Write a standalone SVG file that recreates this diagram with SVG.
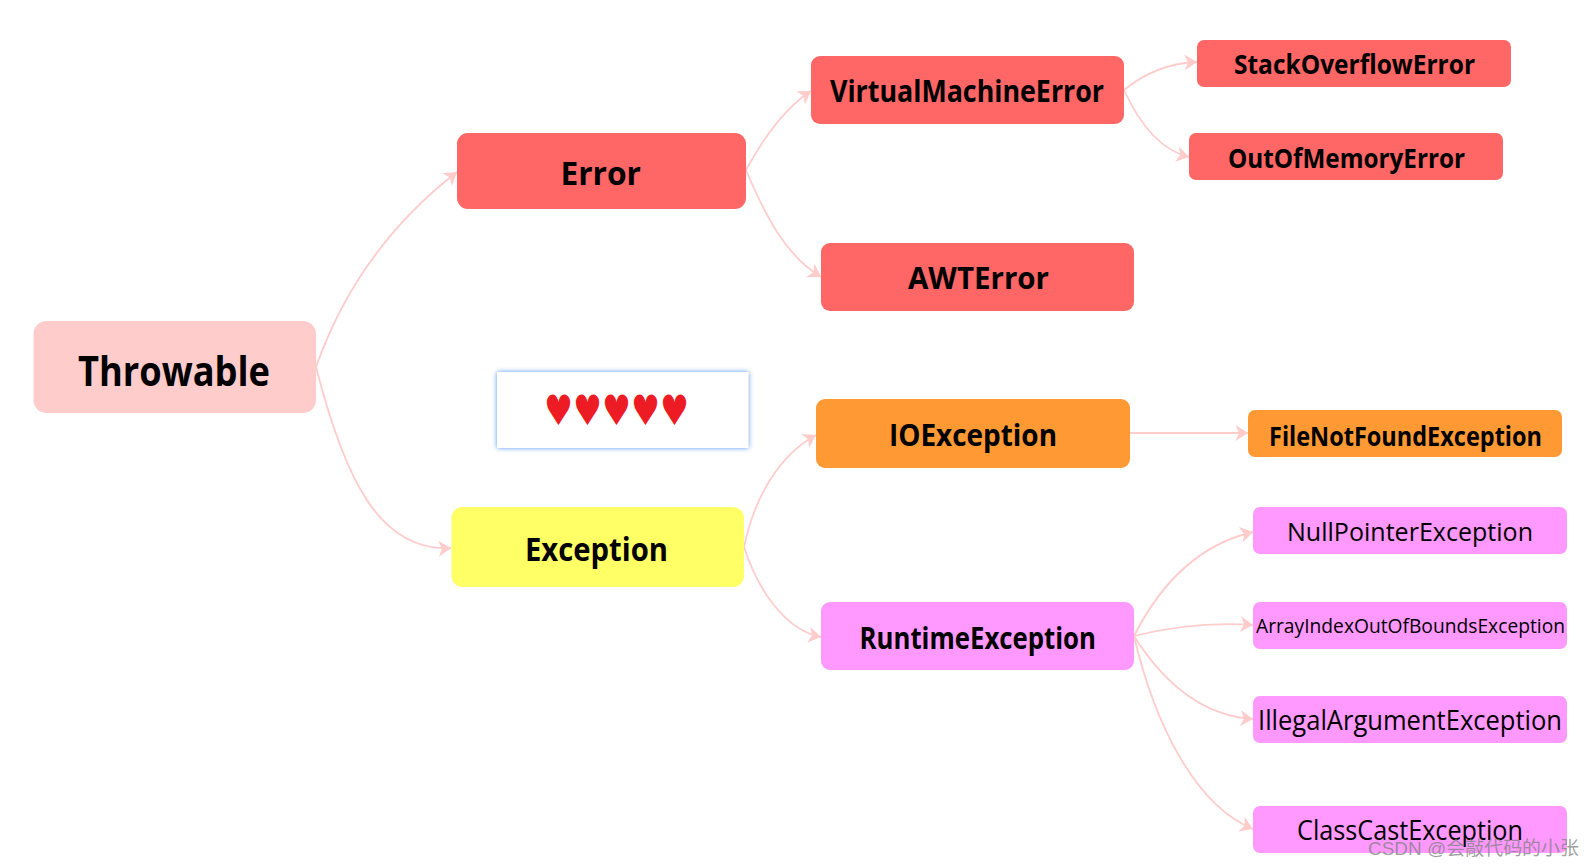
<svg xmlns="http://www.w3.org/2000/svg" width="1595" height="868" viewBox="0 0 1595 868">
<style>
text{font-family:"Open Sans","Noto Sans","Liberation Sans",sans-serif;fill:#000;text-anchor:start}
.b{font-weight:700}
.n{font-weight:400}
.c path{fill:none;stroke:#ffcccc;stroke-width:1.8;marker-end:url(#a)}
.red{fill:#ff6666}.org{fill:#ff9933}.pnk{fill:#ff99ff}
</style>
<defs>
<marker id="a" markerUnits="userSpaceOnUse" markerWidth="16" markerHeight="18" refX="14" refY="8" orient="auto">
<path d="M1.5 0L14 8L1.5 16L5 8Z" fill="#ffcccc" stroke="none"/>
</marker>
<filter id="g" x="-5%" y="-15%" width="110%" height="130%"><feDropShadow dx="0" dy="0" stdDeviation="2.4" flood-color="#4f94f0" flood-opacity="1"/></filter>
</defs>
<rect width="1595" height="868" fill="#fff"/>
<g id="connectors" class="c">
<path d="M316 367C345 285 395 220 457 172"/>
<path d="M316 367C345 480 380 552 451 548"/>
<path d="M746 170C765 135 785 108 811 91"/>
<path d="M746 170C765 215 785 255 821 277"/>
<path d="M1124 90C1145 73 1170 63 1197 62"/>
<path d="M1124 90C1140 125 1160 150 1189 157"/>
<path d="M744 547C755 495 780 455 816 435"/>
<path d="M744 547C758 590 785 630 821 637"/>
<path d="M1130 433H1248"/>
<path d="M1134 636C1165 575 1205 543 1253 532"/>
<path d="M1134 636C1170 627 1210 622 1253 625"/>
<path d="M1134 636C1165 685 1205 716 1253 719"/>
<path d="M1134 636C1155 725 1195 805 1253 829"/>
</g>
<g id="throwable"><rect x="33.5" y="321" width="282.5" height="92" rx="13" fill="#ffcccc"/><text class="b" x="78" y="386" font-size="41" textLength="192" lengthAdjust="spacingAndGlyphs">Throwable</text></g>
<g id="error"><rect x="457" y="133" width="289" height="76" rx="11" class="red"/><text class="b" x="560.5" y="185" font-size="33" textLength="80.5" lengthAdjust="spacingAndGlyphs">Error</text></g>
<g id="exception"><rect x="451.5" y="507" width="292.5" height="80" rx="11" fill="#ffff66"/><text class="b" x="525" y="561" font-size="33" textLength="143" lengthAdjust="spacingAndGlyphs">Exception</text></g>
<g id="hearts"><rect x="497" y="372" width="251.5" height="76" fill="#fff" filter="url(#g)"/><text x="544" y="425" font-size="42" textLength="145" lengthAdjust="spacingAndGlyphs" style="font-family:'DejaVu Sans',sans-serif;fill:#ed1c24">♥♥♥♥♥</text></g>
<g id="virtualmachineerror"><rect x="811" y="56" width="313" height="68" rx="9" class="red"/><text class="b" x="830" y="102" font-size="30" textLength="274" lengthAdjust="spacingAndGlyphs">VirtualMachineError</text></g>
<g id="awterror"><rect x="821" y="243" width="313" height="68" rx="9" class="red"/><text class="b" x="908" y="289" font-size="30" textLength="141" lengthAdjust="spacingAndGlyphs">AWTError</text></g>
<g id="ioexception"><rect x="816" y="399" width="314" height="69" rx="9" class="org"/><text class="b" x="889" y="446" font-size="30" textLength="168" lengthAdjust="spacingAndGlyphs">IOException</text></g>
<g id="runtimeexception"><rect x="821" y="602" width="313" height="68" rx="9" class="pnk"/><text class="b" x="859.5" y="649" font-size="30" textLength="236.5" lengthAdjust="spacingAndGlyphs">RuntimeException</text></g>
<g id="stackoverflowerror"><rect x="1197" y="40" width="314" height="47" rx="7" class="red"/><text class="b" x="1234" y="74" font-size="26" textLength="241" lengthAdjust="spacingAndGlyphs">StackOverflowError</text></g>
<g id="outofmemoryerror"><rect x="1189" y="133" width="314" height="47" rx="7" class="red"/><text class="b" x="1228" y="168" font-size="26" textLength="237" lengthAdjust="spacingAndGlyphs">OutOfMemoryError</text></g>
<g id="filenotfoundexception"><rect x="1248" y="410" width="314" height="47" rx="7" class="org"/><text class="b" x="1269" y="446" font-size="26" textLength="273" lengthAdjust="spacingAndGlyphs">FileNotFoundException</text></g>
<g id="nullpointerexception"><rect x="1253" y="507" width="314" height="47" rx="7" class="pnk"/><text class="n" x="1287" y="541" font-size="26" textLength="246" lengthAdjust="spacingAndGlyphs">NullPointerException</text></g>
<g id="arrayindexoutofboundsexception"><rect x="1253" y="602" width="314" height="47" rx="7" class="pnk"/><text class="n" x="1256" y="633" font-size="20" textLength="309" lengthAdjust="spacingAndGlyphs">ArrayIndexOutOfBoundsException</text></g>
<g id="illegalargumentexception"><rect x="1253" y="696" width="314" height="47" rx="7" class="pnk"/><text class="n" x="1258" y="730" font-size="27" textLength="304" lengthAdjust="spacingAndGlyphs">IllegalArgumentException</text></g>
<g id="classcastexception"><rect x="1253" y="806" width="314" height="47" rx="7" class="pnk"/><text class="n" x="1297" y="840" font-size="27" textLength="226" lengthAdjust="spacingAndGlyphs">ClassCastException</text></g>
<text x="1368" y="855" font-size="19" textLength="211" lengthAdjust="spacingAndGlyphs" style="font-family:'Liberation Sans','Noto Sans CJK SC',sans-serif;fill:#808080;fill-opacity:.75">CSDN @会敲代码的小张</text>
</svg>
